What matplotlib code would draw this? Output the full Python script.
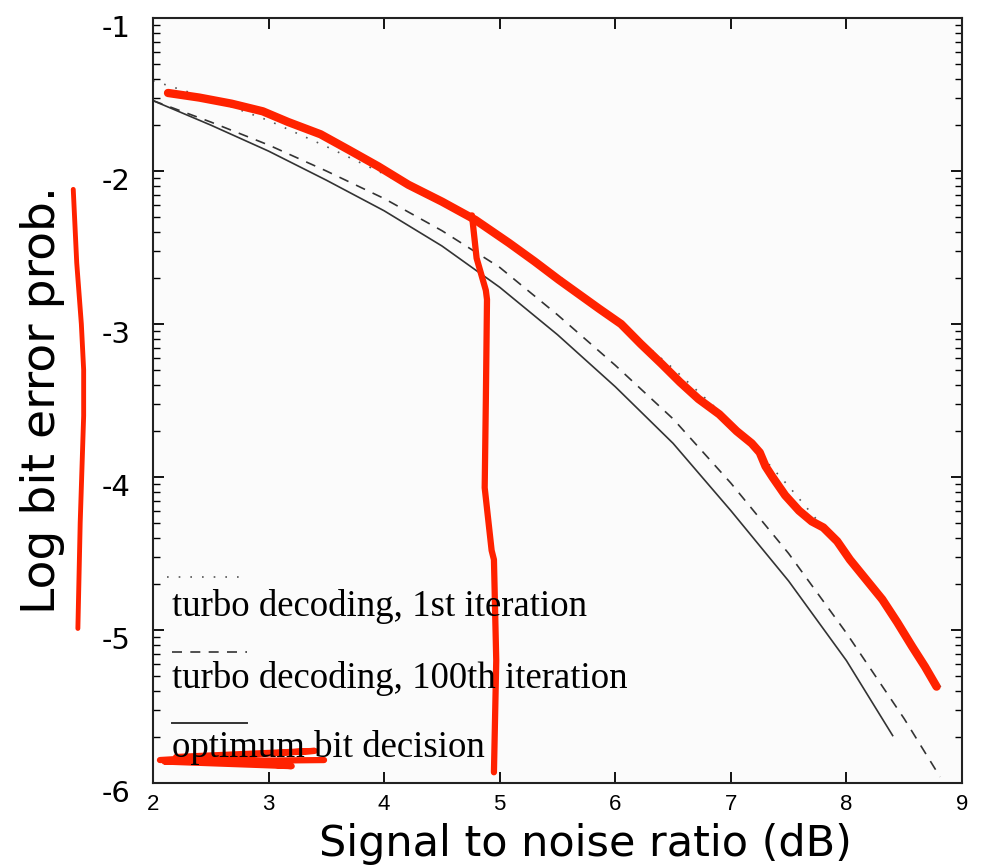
import numpy as np
import matplotlib
matplotlib.use("Agg")
import matplotlib.pyplot as plt
from matplotlib.transforms import ScaledTranslation

# ---- data ----
snr_opt = [2.0, 2.5, 3.0, 3.5, 4.0, 4.5, 5.0, 5.5, 6.0, 6.5, 7.0, 7.5, 8.0, 8.4]
ber_opt = [-1.54, -1.70, -1.87, -2.06, -2.26, -2.49, -2.76, -3.07, -3.41, -3.78, -4.22, -4.68, -5.20, -5.69]

snr_it100 = [2.0, 2.5, 3.0, 3.5, 4.0, 4.5, 5.0, 5.5, 6.0, 6.5, 7.0, 7.5, 8.0, 8.5, 8.81]
ber_it100 = [-1.54, -1.68, -1.83, -2.00, -2.18, -2.39, -2.63, -2.94, -3.27, -3.62, -4.04, -4.50, -5.02, -5.58, -5.96]

snr_it1 = [2.0, 2.5, 3.0, 3.5, 4.0, 4.5, 5.0, 5.5, 6.0, 6.5, 7.0, 7.5, 8.0, 8.5, 8.85]
ber_it1 = [-1.41, -1.53, -1.67, -1.84, -2.02, -2.21, -2.41, -2.68, -2.97, -3.29, -3.64, -4.06, -4.51, -5.03, -5.41]

# hand-drawn red annotations
red_curve_x = [2.13, 2.40, 2.68, 2.95, 3.17, 3.45, 3.69, 3.95, 4.21, 4.50, 4.79, 5.08, 5.30, 5.51, 5.86, 6.05,
               6.22, 6.40, 6.56, 6.72, 6.90, 7.05, 7.18, 7.25, 7.30, 7.36, 7.47, 7.59, 7.70, 7.80, 7.92, 8.03,
               8.17, 8.31, 8.44, 8.57, 8.68, 8.78]
red_curve_y = [-1.49, -1.52, -1.56, -1.61, -1.68, -1.76, -1.86, -1.97, -2.09, -2.20, -2.32, -2.47, -2.59, -2.71,
               -2.90, -3.00, -3.13, -3.26, -3.38, -3.49, -3.59, -3.70, -3.78, -3.84, -3.93, -4.00, -4.12, -4.22,
               -4.29, -4.33, -4.42, -4.54, -4.67, -4.80, -4.95, -5.11, -5.24, -5.37]

red_vert_x = [4.76, 4.80, 4.88, 4.89, 4.88, 4.87, 4.93, 4.95, 4.97, 4.95]
red_vert_y = [-2.29, -2.57, -2.78, -2.84, -3.50, -4.07, -4.48, -4.54, -5.20, -5.93]

red_scrib_x = [2.06, 3.40, 2.20, 3.20, 2.10, 3.48]
red_scrib_y = [-5.85, -5.79, -5.83, -5.89, -5.86, -5.85]

red_left_x = [1.31, 1.34, 1.38, 1.40, 1.40, 1.37, 1.35]
red_left_y = [-2.12, -2.60, -3.00, -3.30, -3.60, -4.30, -4.99]

x_ticks = [2, 3, 4, 5, 6, 7, 8, 9]
y_ticks = [-6, -5, -4, -3, -2, -1]
legend_labels = ["turbo decoding, 1st iteration",
                 "turbo decoding, 100th iteration",
                 "optimum bit decision"]
x_label = "Signal to noise ratio (dB)"
y_label = "Log bit error prob."

# ---- figure ----
fig = plt.figure(figsize=(9.93, 8.68), dpi=100)
ax = fig.add_axes([153/993, (868-783)/868, (962-153)/993, (783-18)/868])
ax.set_facecolor("#fbfbfb")

ax.plot(snr_it1, ber_it1, color="#555555", lw=1.2, ls=(0, (1, 6)))
ax.plot(snr_it100, ber_it100, color="#333333", lw=1.2, ls=(0, (6, 5)))
ax.plot(snr_opt, ber_opt, color="#333333", lw=1.2)

red = "#ff2200"
ax.plot(red_curve_x, red_curve_y, color=red, lw=6, solid_capstyle="round", solid_joinstyle="round")
ax.plot(red_vert_x, red_vert_y, color=red, lw=4.5, solid_capstyle="round", solid_joinstyle="round")
ax.plot(red_scrib_x, red_scrib_y, color=red, lw=4.5, solid_capstyle="round", solid_joinstyle="round")
ax.plot(red_left_x, red_left_y, color=red, lw=3.5, solid_capstyle="round", solid_joinstyle="round", clip_on=False)

ax.set_xlim(2, 9)
ax.set_ylim(-6, -1)

ax.set_xticks(x_ticks)
ax.set_xticklabels([str(v) for v in x_ticks], fontsize=16, family="Liberation Sans")
ax.set_yticks(y_ticks)
ax.set_yticklabels([str(v) for v in y_ticks], fontsize=21)
minor = [d + np.log10(k) for d in range(-6, -1) for k in range(2, 10)]
ax.set_yticks(minor, minor=True)

ax.tick_params(axis="both", which="major", direction="in", length=8, width=1.3,
               top=True, right=True)
ax.tick_params(axis="y", which="minor", direction="in", length=5, width=1.0,
               left=True, right=True)
ax.tick_params(axis="x", which="major", pad=8)
ax.tick_params(axis="y", which="major", pad=16)
off = ScaledTranslation(0, -8/100, fig.dpi_scale_trans)
for lab in ax.get_yticklabels():
    lab.set_transform(lab.get_transform() + off)

for s in ax.spines.values():
    s.set_linewidth(1.5)
    s.set_color("#222222")

ax.set_xlabel(x_label, fontsize=31)
ax.xaxis.set_label_coords(0.534, -0.080)
ax.xaxis.label.set_va("center")
ax.set_ylabel(y_label, fontsize=34)
ax.yaxis.set_label_coords(-0.137, 0.50)
ax.yaxis.label.set_va("center")

# legend drawn as in the original: line sample above its text
styles = [dict(color="#555555", lw=1.2, ls=(0, (1, 6))),
          dict(color="#333333", lw=1.2, ls=(0, (6, 5))),
          dict(color="#333333", lw=1.4)]
sample_y = [0.269, 0.171, 0.078]
text_y = [0.231, 0.137, 0.046]
for lab, st, sy, ty, x0 in zip(legend_labels, styles, sample_y, text_y, [0.0173, 0.0235, 0.0235]):
    ax.plot([x0, 0.116], [sy, sy], transform=ax.transAxes, **st)
    ax.text(0.0235, ty, lab, transform=ax.transAxes, fontsize=26.5,
            family="Liberation Serif", va="center", ha="left")

fig.savefig("out.png", dpi=100)
